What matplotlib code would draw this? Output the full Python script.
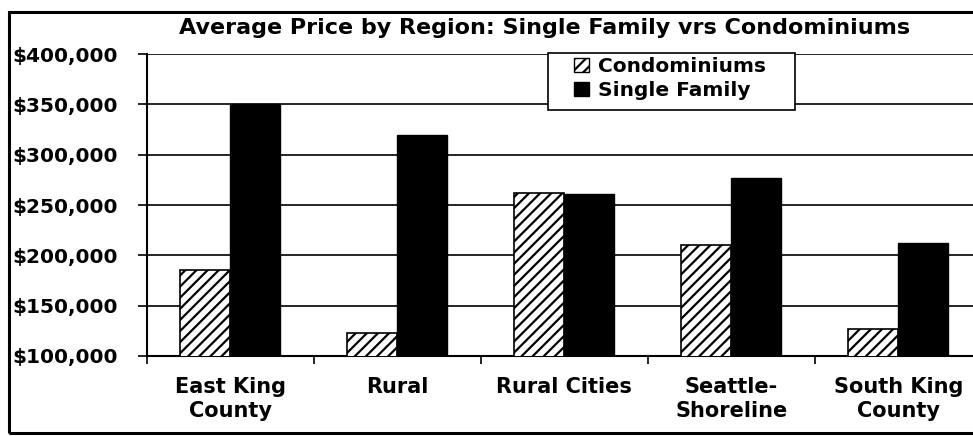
import matplotlib
matplotlib.use('Agg')
import matplotlib.pyplot as plt
from matplotlib.patches import Rectangle, Patch
import numpy as np

regions = ['East King\nCounty', 'Rural', 'Rural Cities', 'Seattle-\nShoreline', 'South King\nCounty']
condo = [185000, 123000, 262000, 210000, 127000]
single = [350000, 320000, 261000, 277000, 212000]
yticks = [100000, 150000, 200000, 250000, 300000, 350000, 400000]

plt.rcParams['font.family'] = 'DejaVu Sans'
plt.rcParams['font.weight'] = 'bold'
plt.rcParams['hatch.linewidth'] = 1.6

fig = plt.figure(figsize=(9.73, 4.36), dpi=100)
ax = fig.add_axes([0.151, 0.1835, 0.858, 0.6925])

x = np.arange(len(regions)) + 0.5
w = 0.3
ax.bar(x - w / 2, condo, w, color='white', edgecolor='black', hatch='///', linewidth=1.2, zorder=3)
ax.bar(x + w / 2, single, w, color='black', edgecolor='black', linewidth=1, zorder=3)

ax.set_xlim(0, 5)
ax.set_ylim(100000, 400000)
ax.set_yticks(yticks)
ax.set_yticklabels(['${:,}'.format(v) for v in yticks], fontsize=14.5, fontweight='bold')
ax.yaxis.grid(True, color='black', linewidth=1.2)
ax.set_axisbelow(True)

ax.set_xticks(range(6))
ax.set_xticklabels([])
ax.set_xticks(x, minor=True)
ax.set_xticklabels(regions, minor=True, fontsize=15, fontweight='bold', linespacing=1.25)
ax.tick_params(axis='x', which='minor', length=0, pad=15)
ax.tick_params(axis='x', which='major', length=6, width=1.2, direction='out')
ax.tick_params(axis='y', length=6.5, width=1.2, direction='out', pad=14.5)

for s in ['top', 'right']:
    ax.spines[s].set_visible(False)
ax.spines['left'].set_linewidth(1.5)
ax.spines['bottom'].set_linewidth(1.5)

fig.text(0.56, 0.935, 'Average Price by Region: Single Family vrs Condominiums',
         ha='center', va='center', fontsize=16, fontweight='bold')

# legend box
ax.add_patch(Rectangle((0.481, 0.815), 0.295, 0.19, transform=ax.transAxes,
                       facecolor='white', edgecolor='black', linewidth=1.2,
                       zorder=4, clip_on=False))
handles = [Patch(facecolor='white', edgecolor='black', hatch='///', label='Condominiums'),
           Patch(facecolor='black', edgecolor='black', label='Single Family')]
leg = ax.legend(handles=handles, loc='upper left', bbox_to_anchor=(0.511, 0.99),
                frameon=False, prop={'weight': 'bold', 'size': 14.5},
                handlelength=0.75, handleheight=0.75, handletextpad=0.45,
                borderpad=0, labelspacing=0.25, borderaxespad=0)
leg.set_zorder(5)

fig.patches.append(Rectangle((0.009, 0.006), 1.2, 0.967, transform=fig.transFigure,
                             fill=False, edgecolor='black', linewidth=2.2))

fig.savefig('out.png', dpi=100)
